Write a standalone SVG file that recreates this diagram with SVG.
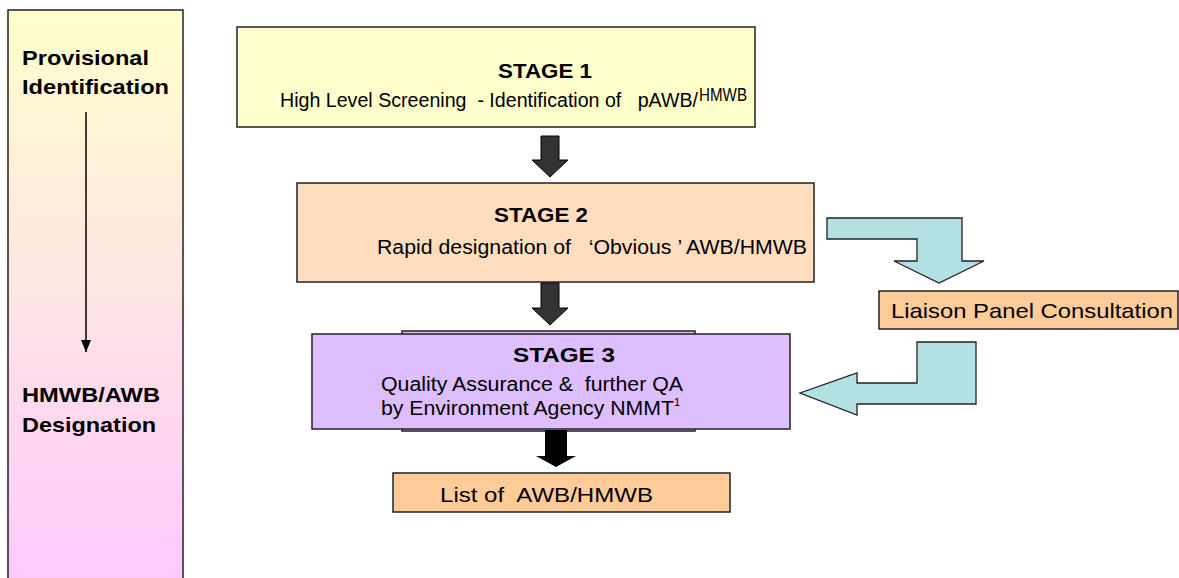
<svg xmlns="http://www.w3.org/2000/svg" width="1179" height="578" viewBox="0 0 1179 578">
<style>
.t{font-family:"Liberation Sans",Arial,sans-serif;fill:#000;white-space:pre}
.b{font-weight:bold}
.box{stroke:#222;stroke-width:1.5}
.dark{fill:#333;stroke:#000;stroke-width:1}
.cyan{fill:#B3E0E3;stroke:#222;stroke-width:1.3}
</style>
<defs>
<linearGradient id="panelGrad" x1="0" y1="0" x2="0" y2="1">
<stop offset="0" stop-color="#FFFFCC"/>
<stop offset="0.5" stop-color="#FFE4E4"/>
<stop offset="1" stop-color="#FFC8FF"/>
</linearGradient>
<marker id="head" viewBox="0 0 12 10" refX="12" refY="5" markerUnits="userSpaceOnUse" markerWidth="12" markerHeight="10" orient="auto">
<path d="M0,0 L12,5 L0,10 z" fill="#000"/>
</marker>
</defs>
<rect width="1179" height="578" fill="#fff"/>

<g id="panel">
<rect x="8" y="10" width="175" height="580" fill="url(#panelGrad)" class="box"/>
<text class="t b" x="22" y="65" font-size="21" textLength="127" lengthAdjust="spacingAndGlyphs">Provisional</text>
<text class="t b" x="22" y="94" font-size="21" textLength="147" lengthAdjust="spacingAndGlyphs">Identification</text>
<text class="t b" x="22" y="402" font-size="21" textLength="138" lengthAdjust="spacingAndGlyphs">HMWB/AWB</text>
<text class="t b" x="22" y="432" font-size="21" textLength="134" lengthAdjust="spacingAndGlyphs">Designation</text>
</g>

<g id="stage1">
<rect x="237" y="27" width="518" height="100" fill="#FFFFCC" class="box"/>
<text class="t b" x="498" y="78" font-size="21" textLength="94" lengthAdjust="spacingAndGlyphs">STAGE 1</text>
<text class="t" x="280" y="107" font-size="19.5" textLength="418" lengthAdjust="spacingAndGlyphs">High Level Screening  - Identification of   pAWB/</text>
<text class="t" x="699" y="101" font-size="18" textLength="48" lengthAdjust="spacingAndGlyphs">HMWB</text>
</g>

<g id="stage2">
<rect x="297" y="183" width="517" height="99" fill="#FFDEBF" class="box"/>
<text class="t b" x="494" y="222" font-size="21" textLength="94" lengthAdjust="spacingAndGlyphs">STAGE 2</text>
<text class="t" x="377" y="254" font-size="19.5" textLength="430" lengthAdjust="spacingAndGlyphs">Rapid designation of   ‘Obvious ’ AWB/HMWB</text>
</g>

<g id="stage3">
<rect x="402" y="331" width="293" height="100" fill="#DDBEFF" class="box"/>
<rect x="312" y="334" width="478" height="95" fill="#DDBEFF" class="box"/>
<text class="t b" x="513" y="362" font-size="21" textLength="102" lengthAdjust="spacingAndGlyphs">STAGE 3</text>
<text class="t" x="381" y="391" font-size="19.5" textLength="302" lengthAdjust="spacingAndGlyphs">Quality Assurance &amp;  further QA</text>
<text class="t" x="381" y="415" font-size="19.5" textLength="293" lengthAdjust="spacingAndGlyphs">by Environment Agency NMMT</text>
<text class="t" x="674" y="406" font-size="11">1</text>
</g>

<g id="list">
<rect x="393" y="473" width="337" height="39" fill="#FFCC99" class="box"/>
<text class="t" x="440" y="502" font-size="21" textLength="213" lengthAdjust="spacingAndGlyphs">List of  AWB/HMWB</text>
</g>

<g id="liaison">
<rect x="879" y="291" width="299" height="38" fill="#FFCC99" class="box"/>
<text class="t" x="891" y="318" font-size="21" textLength="282" lengthAdjust="spacingAndGlyphs">Liaison Panel Consultation</text>
</g>

<g id="connectors">
<line x1="86" y1="112" x2="86" y2="352" stroke="#000" stroke-width="1.5" marker-end="url(#head)"/>
<polygon class="dark" points="541,136 559,136 559,160 568,160 550,177 532,160 541,160"/>
<polygon class="dark" points="541,283 559,283 559,308 568,308 550,325 532,308 541,308"/>
<polygon points="545,430 567,430 567,456 576,456 556,467 536,456 545,456" fill="#000"/>
<path class="cyan" d="M827,218 H962 V261 H984 L939,283 L894,261 H917 V239 H827 Z"/>
<path class="cyan" d="M917,342 H976 V404 H857 V415 L800,393 L857,373 V383 H917 Z"/>
</g>
</svg>
